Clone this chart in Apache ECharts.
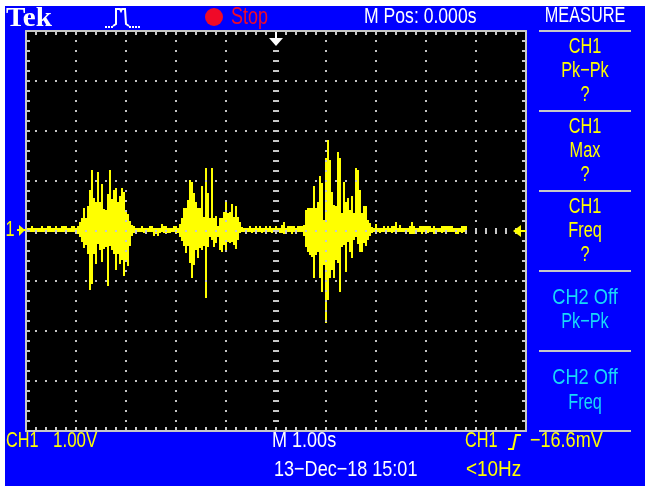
<!DOCTYPE html>
<html><head><meta charset="utf-8">
<style>html,body{margin:0;padding:0;background:#fff}#c{width:650px;height:492px}</style>
<script src="https://cdn.jsdelivr.net/npm/echarts@6/dist/echarts.min.js"></script>
</head><body><div id="c"></div>
<script>
// Trace envelope in volts (1.00 V/div), one column every 0.04 s, starting at -4.96 s.
const maxLead = [.06,.06,.1,.06,.06,.06,.06,.1,.06,.06,.1,.1,.06,.06,.1,.06,.06,.1,.1,.1,.06,.06,.1,.1];
const minLead = [-.02,-.02,-.02,-.02,-.02,-.02,-.02,-.02,-.02,-.02,-.02,-.02,-.02,-.02,-.02,-.02,-.02,-.02,-.02,-.02,-.02,-.02,-.02,-.02];
const maxBurst1 = [.06,.1,.18,.26,.46,.26,.5,.82,1.22,.66,.58,1.18,.58,.94,.44,.42,.74,1.22,.64,.82,.86,.58,.7,.86,.78,.42,.34,.2,.12,.1,.06,.06];
const minBurst1 = [-.02,-.06,-.12,-.22,-.34,-.28,-.46,-1.18,-1.06,-.46,-.66,-.26,-.38,-.62,-.36,-.32,-1.1,-.3,-.38,-.46,-.78,-.46,-.66,-.58,-.9,-.58,-.7,-.3,-.1,-.04,-.02,-.02];
const maxGap1 = [.06,.1,.06,.06,.06,.1,.1,.06,.06,.06,.06,.14,.1,.1,.06,.06,.06,.1,.1];
const minGap1 = [-.02,-.02,-.04,-.02,-.02,-.02,-.02,-.1,-.04,-.1,-.04,-.02,-.04,-.04,-.04,-.04,-.02,-.02,-.04];
const maxBurst2 = [.06,.14,.26,.46,.46,.62,1.02,.98,.76,.58,.46,.46,.9,.28,1.26,.76,.26,1.26,.26,.3,.1,.26,.26,.38,.62,.36,.38,.54,.28,.5,.28,.18,.08,.06];
const minBurst2 = [-.04,-.12,-.2,-.3,-.44,-.3,-.64,-.94,-.68,-.38,-.54,-.34,-.38,-.3,-1.34,-.32,-.12,-.18,-.32,-.24,-.12,-.38,-.42,-.28,-.38,-.22,-.24,-.22,-.28,-.36,-.18,-.04,-.02,-.02];
const maxGap2 = [.06,.06,.1,.06,.06,.1,.06,.1,.06,.06,.1,.06,.1,.06,.06,.1,.06,.06,.12,.18,.06,.1,.1,.1,.1,.06,.1,.1,.1,.12];
const minGap2 = [-.02,-.02,-.02,-.04,-.02,-.02,-.02,-.02,-.04,-.02,-.02,-.02,-.02,-.04,-.02,-.02,-.02,-.04,-.04,-.06,-.02,-.02,-.02,-.06,-.02,-.02,-.02,-.02,-.02,-.1];
const maxBurst3 = [.42,.46,.46,.46,.9,.46,.58,1.1,.96,.22,1.46,1.82,1.42,.78,.52,.5,1.58,1.46,.36,.98,.58,.66,.42,.7,.36,1.26,1.22,.82,.36,.5,.5,.22,.16,.08];
const minBurst3 = [-.32,-.42,-.48,-.52,-.94,-.48,-.42,-.94,-1.22,-.68,-1.84,-1.38,-.94,-.78,-.94,-.58,-.64,-1.22,-.32,-.28,-.82,-.22,-.42,-.54,-.18,-.12,-.26,-.42,-.42,-.24,-.3,-.18,-.1,-.04];
const maxTail = [.06,.14,.06,.06,.06,.1,.06,.1,.06,.1,.1,.18,.06,.12,.06,.06,.06,.06,.1,.18,.1,.06,.06,.1,.1,.1,.1,.1,.1,.06,.1,.06,.06,.06,.1,.1,.1,.1,.1,.1,.06,.06,.06,.06,.1,.1,.1];
const minTail = [-.02,-.02,-.02,-.04,-.02,-.02,-.02,-.02,-.02,-.04,-.02,-.02,-.02,-.02,-.02,-.02,-.02,-.02,-.06,-.06,-.06,-.02,-.02,-.02,-.06,-.02,-.02,-.04,-.02,-.02,-.06,-.02,-.02,-.02,-.04,-.02,-.02,-.02,-.02,-.02,-.02,-.06,-.06,-.02,-.04,-.02,-.02];

const traceMax = [].concat(maxLead, maxBurst1, maxGap1, maxBurst2, maxGap2, maxBurst3, maxTail);
const traceMin = [].concat(minLead, minBurst1, minGap1, minBurst2, minGap2, minBurst3, minTail);
const traceData = traceMax.map((hi, i) => [-4.96 + i * 0.04, hi, traceMin[i]]);

const BLUE = '#0000ff', YEL = '#ffff00', CYAN = '#18d8f8', GRAY = '#c8c8c8', RED = '#f00a28', WHITE = '#ffffff';
const FONT = '"Liberation Sans",sans-serif';

function txt(s, x, y, fill, align, sx, size) {
  return {type:'text', x:x, y:y, scaleX:sx||0.74, z:10, silent:true,
    style:{text:s, x:0, y:0, fill:fill, align:align||'center', verticalAlign:'middle',
      font:'normal '+(size||22)+'px '+FONT}};
}
function sep(y){return {type:'rect',z:10,silent:true,shape:{x:539,y:y-1,width:92,height:2},style:{fill:GRAY}};}

const graphics = [
  {type:'rect', z:-5, silent:true, shape:{x:5,y:6,width:640,height:480}, style:{fill:BLUE}},
  {type:'text', x:6, y:19, z:10, silent:true, scaleX:1.04, style:{text:'Tek', x:0,y:0, fill:WHITE, align:'left', verticalAlign:'middle', font:'bold 28px "Liberation Serif",serif'}},
  {type:'polyline', z:10, silent:true, shape:{points:[[105,27],[113,27]]}, style:{stroke:WHITE, lineWidth:2, fill:null, lineDash:[2,1]}},
  {type:'polyline', z:10, silent:true, shape:{points:[[129,27],[141,27]]}, style:{stroke:WHITE, lineWidth:2, fill:null, lineDash:[2,1]}},
  {type:'polyline', z:10, silent:true, shape:{points:[[113,26],[116,24],[116,9],[120,9],[121,11],[122,9],[125,9],[126,24],[129,26]]}, style:{stroke:WHITE, lineWidth:2, fill:null}},
  {type:'circle', z:10, silent:true, shape:{cx:214,cy:17,r:9}, style:{fill:RED}},
  txt('Stop',231,18,RED,'left',0.78,23),
  txt('M Pos: 0.000s',364,17,WHITE,'left',0.8),
  txt('MEASURE',585,16,WHITE),
  sep(31),sep(111),sep(191),sep(271),sep(351),sep(431),
  txt('CH1',585,47,YEL),txt('Pk\u2212Pk',585,71,YEL),txt('?',585,95,YEL),
  txt('CH1',585,127,YEL),txt('Max',585,151,YEL),txt('?',585,175,YEL),
  txt('CH1',585,207,YEL),txt('Freq',585,231,YEL),txt('?',585,255,YEL),
  txt('CH2 Off',585,298,CYAN,'center',0.83),txt('Pk\u2212Pk',585,322,CYAN),
  txt('CH2 Off',585,378,CYAN,'center',0.83),txt('Freq',585,403,CYAN),
  txt('CH1',6,441,YEL,'left'),txt('1.00V',53,441,YEL,'left',0.77),
  txt('M 1.00s',272,441,WHITE,'left',0.82),
  txt('13\u2212Dec\u221218 15:01',274,470,WHITE,'left',0.82),
  txt('CH1',465,441,YEL,'left'),
  {type:'polyline', z:10, silent:true, shape:{points:[[508,449],[513,449],[516,435],[521,435]]}, style:{stroke:YEL,lineWidth:2,fill:null}},
  txt('\u221216.6mV',530,441,YEL,'left',0.82),
  txt('<10Hz',466,470,YEL,'left',0.86),
  txt('1',10,230,YEL,'center',0.74,22),
  {type:'rect', z:10, silent:true, shape:{x:17,y:229,width:9,height:2}, style:{fill:YEL}},
  {type:'polygon', z:10, silent:true, shape:{points:[[19,225],[25,230],[19,236]]}, style:{fill:YEL}},
  {type:'polygon', z:10, silent:true, shape:{points:[[513,231],[521,225],[521,237]]}, style:{fill:YEL}},
  {type:'rect', z:10, silent:true, shape:{x:519,y:230,width:7,height:2}, style:{fill:YEL}},
  {type:'rect', z:10, silent:true, shape:{x:275,y:32,width:2,height:7}, style:{fill:WHITE}},
  {type:'polygon', z:10, silent:true, shape:{points:[[269,38],[283,38],[276,46]]}, style:{fill:WHITE}}
];

const tickStyle = {show:true, inside:true, length:4, lineStyle:{color:GRAY, width:2}};
const minorStyle = {show:true, splitNumber:5, length:4, lineStyle:{color:GRAY, width:2}};
const line = {show:true, onZero:false, lineStyle:{color:GRAY, width:2}};
const dots = off => ({show:true, lineStyle:{color:GRAY, width:2, type:[2,8], dashOffset:off}});
function xa(pos, split){return {type:'value',position:pos,min:-5,max:5,interval:1,z:3,axisLine:line,axisTick:tickStyle,minorTick:minorStyle,axisLabel:{show:false},splitLine:split?dots(1):{show:false}};}
function ya(pos, split){return {type:'value',position:pos,min:-4,max:4,interval:1,z:3,axisLine:line,axisTick:tickStyle,minorTick:minorStyle,axisLabel:{show:false},splitLine:split?dots(1):{show:false}};}

// Longer graticule ticks on the two centre lines.
const centreX = [], centreY = [];
for (let i = -24; i <= 24; i++) centreX.push([i / 5, 0]);
for (let i = -19; i <= 19; i++) centreY.push([0, i / 5]);

const chart = echarts.init(document.getElementById('c'), null, {renderer:'canvas'});
chart.setOption({
  animation:false,
  backgroundColor:'#ffffff',
  grid:{left:26, top:31, width:500, height:400, show:true, backgroundColor:'#000000', borderWidth:0},
  xAxis:[xa('bottom',true), xa('top',false)],
  yAxis:[ya('left',true), ya('right',false)],
  tooltip:{show:false},
  graphic:graphics,
  series:[
    {name:'Centre row', type:'custom', z:1, silent:true, data:centreX, encode:{x:0,y:1},
      renderItem:(p,api)=>{
        const a=api.coord([api.value(0),api.value(1)]);
        return {type:'rect',shape:{x:a[0]-1,y:a[1]-3,width:2,height:6},style:{fill:GRAY}};
      }},
    {name:'CH1', type:'custom', z:2, silent:true, data:traceData, encode:{x:0,y:[1,2]},
      renderItem:(p,api)=>{
        const a=api.coord([api.value(0),api.value(1)]), b=api.coord([api.value(0),api.value(2)]);
        return {type:'rect',shape:{x:a[0]-1,y:a[1],width:2,height:b[1]-a[1]},style:{fill:YEL}};
      }},
    {name:'Centre column', type:'custom', z:4, silent:true, data:centreY, encode:{x:0,y:1},
      renderItem:(p,api)=>{
        const a=api.coord([api.value(0),api.value(1)]);
        return {type:'rect',shape:{x:a[0]-3,y:a[1]-1,width:6,height:2},style:{fill:GRAY}};
      }}
  ]
});
</script></body></html>
